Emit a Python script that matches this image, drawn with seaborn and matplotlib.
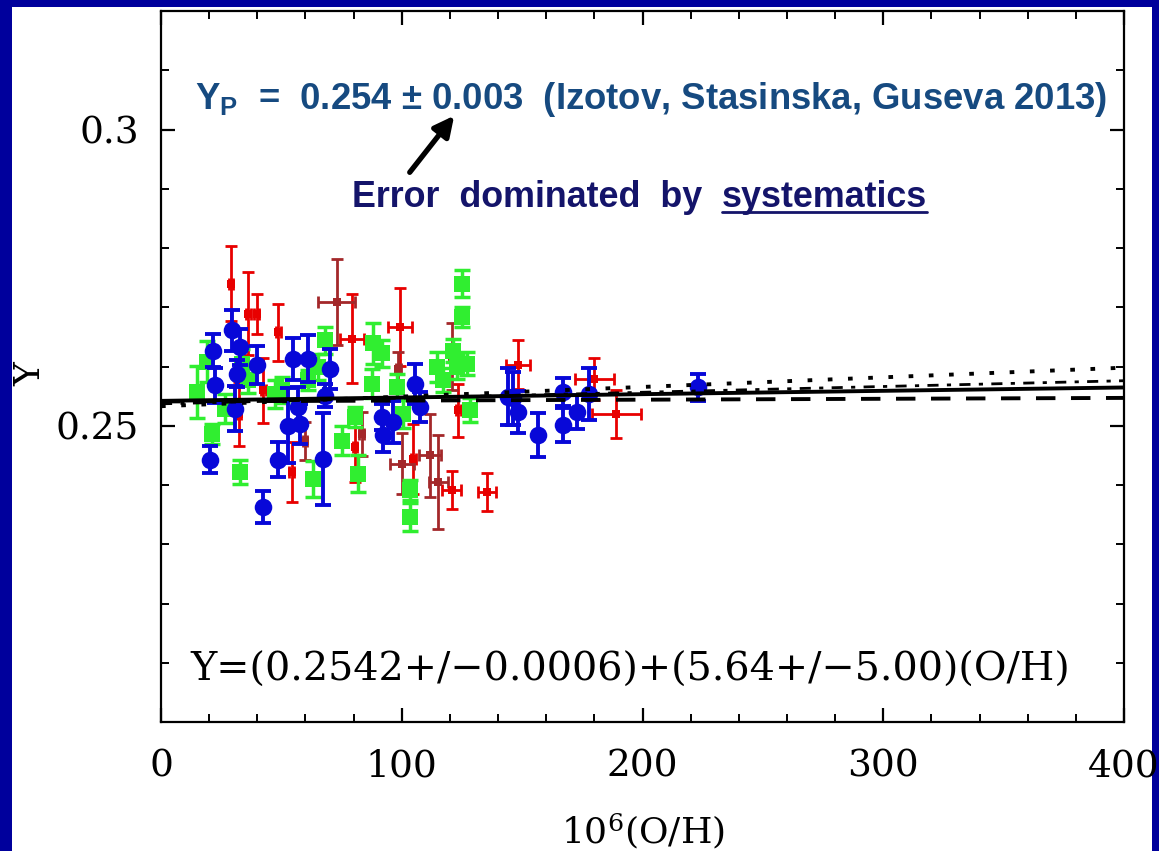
import matplotlib
matplotlib.use("Agg")
import numpy as np
import pandas as pd
import seaborn as sns
import matplotlib.pyplot as plt
from matplotlib.patches import Rectangle
from matplotlib.ticker import MultipleLocator, FixedLocator

# ---------------- data ----------------
blue_x = [20.3, 21.7, 22.4, 29.4, 30.7, 31.4, 32.8, 39.7, 42.5, 48.7, 52.9, 54.9,
          57.0, 57.7, 61.2, 67.4, 68.1, 70.2, 91.6, 92.3, 96.5, 105.5, 107.6,
          144.2, 146.3, 148.4, 156.7, 167.1, 167.1, 172.6, 177.9, 223.1]
blue_y = [0.2443, 0.2627, 0.2568, 0.2661, 0.2529, 0.2588, 0.2633, 0.2602, 0.2363,
          0.2443, 0.2500, 0.2613, 0.2532, 0.2503, 0.2613, 0.2444, 0.2551, 0.2596,
          0.2515, 0.2484, 0.2506, 0.2571, 0.2532, 0.2549, 0.2546, 0.2523, 0.2484,
          0.2557, 0.2501, 0.2523, 0.2554, 0.2565]
blue_err = [0.0022, 0.0028, 0.0030, 0.0034, 0.0038, 0.0023, 0.0030, 0.0032, 0.0027,
            0.0030, 0.0063, 0.0035, 0.0034, 0.0034, 0.0040, 0.0077, 0.0020, 0.0034,
            0.0022, 0.0028, 0.0035, 0.0034, 0.0025, 0.0048, 0.0045, 0.0035, 0.0037,
            0.0023, 0.0029, 0.0029, 0.0044, 0.0023]

green_x = [14.8, 19.0, 21.1, 26.6, 32.8, 33.6, 36.3, 47.3, 50.1, 61.2, 63.2, 65.3,
           68.1, 75.0, 80.6, 81.9, 87.5, 88.2, 91.6, 97.9, 100.6, 103.4, 103.4,
           114.5, 117.2, 121.4, 122.8, 124.9, 124.9, 127.0, 128.3]
green_y = [0.2557, 0.2608, 0.2486, 0.2529, 0.2422, 0.2605, 0.2577, 0.2554, 0.2560,
           0.2577, 0.2410, 0.2599, 0.2644, 0.2475, 0.2515, 0.2419, 0.2571, 0.2639,
           0.2622, 0.2565, 0.2520, 0.2391, 0.2346, 0.2599, 0.2577, 0.2627, 0.2599,
           0.2740, 0.2684, 0.2605, 0.2526]
green_err = [0.0044, 0.0035, 0.0017, 0.0025, 0.0020, 0.0025, 0.0022, 0.0024, 0.0022,
             0.0017, 0.0031, 0.0022, 0.0023, 0.0024, 0.0017, 0.0031, 0.0025, 0.0034,
             0.0022, 0.0022, 0.0024, 0.0017, 0.0024, 0.0025, 0.0020, 0.0020, 0.0020,
             0.0023, 0.0017, 0.0020, 0.0020]

red_x = [29.1, 36.3, 39.7, 48.7, 42.5, 32.4, 54.3, 79.2, 80.6, 99.3, 104.8, 120.7,
         123.5, 135.3, 148.4, 180.0, 189.2]
red_y = [0.2740, 0.2689, 0.2689, 0.2658, 0.2560, 0.2520, 0.2422, 0.2647, 0.2464,
         0.2667, 0.2444, 0.2391, 0.2526, 0.2388, 0.2603, 0.2579, 0.2520]
red_xerr = [1.0, 1.0, 1.0, 1.0, 1.0, 1.0, 1.0, 5.0, 1.0, 5.0, 1.0, 3.8, 1.0, 3.8,
            5.0, 8.0, 10.0]
red_yerr = [0.0064, 0.0070, 0.0034, 0.0048, 0.0055, 0.0054, 0.0051, 0.0075, 0.0059,
            0.0066, 0.0059, 0.0032, 0.0045, 0.0032, 0.0041, 0.0035, 0.0041]

dred_x = [73.0, 59.8, 83.3, 98.5, 100.0, 111.7, 115.2, 120.7]
dred_y = [0.2709, 0.2475, 0.2486, 0.2596, 0.2436, 0.2450, 0.2405, 0.2617]
dred_xerr = [7.6, 1.0, 1.0, 1.0, 5.0, 4.5, 4.0, 1.0]
dred_yerr = [0.0072, 0.0032, 0.0037, 0.0029, 0.0051, 0.0070, 0.0079, 0.0056]

line_x = [0, 400]
fit_solid = [0.2542, 0.25646]
fit_dashed = [0.2541, 0.2547]
fit_dashdot = [0.2537, 0.2576]
fit_dotted = [0.2533, 0.2598]

x_ticks = [0, 100, 200, 300, 400]
y_ticks = [0.25, 0.3]
y_tick_labels = ["0.25", "0.3"]

# ---------------- style ----------------
sns.set_theme(style="ticks")
plt.rcParams["font.family"] = ["DejaVu Serif"]
plt.rcParams["mathtext.fontset"] = "custom"
plt.rcParams["mathtext.rm"] = "Liberation Sans:bold"
plt.rcParams["mathtext.bf"] = "Liberation Sans:bold"
plt.rcParams["mathtext.it"] = "Liberation Sans:bold"

W, H = 1159, 851
fig = plt.figure(figsize=(W / 100, H / 100), dpi=100, facecolor="#00009c")
fig.patches.append(Rectangle((12 / W, 0), (1152 - 12) / W, 1 - 7 / H,
                             transform=fig.transFigure, facecolor="white",
                             edgecolor="none", zorder=-5))
ax = fig.add_axes([161 / W, 1 - 722 / H, (1124 - 161) / W, (722 - 11) / H])
ax.set_zorder(1)
ax.set_facecolor("white")

BLUE = "#0808d8"
GREEN = "#30ee30"
RED = "#e80000"
DRED = "#a3282a"

# red and dark red points with x and y errors
for xs, ys, xe, ye, c in [(red_x, red_y, red_xerr, red_yerr, RED),
                          (dred_x, dred_y, dred_xerr, dred_yerr, DRED)]:
    ax.errorbar(xs, ys, xerr=xe, yerr=ye, fmt="none", ecolor=c, elinewidth=2.0,
                capsize=4.5, capthick=2.0, zorder=2)
    sns.scatterplot(x=xs, y=ys, ax=ax, marker="s", s=32, color=c,
                    edgecolor=c, linewidth=0, zorder=3)

ax.errorbar(green_x, green_y, yerr=green_err, fmt="none", ecolor=GREEN,
            elinewidth=2.5, capsize=5.5, capthick=2.5, zorder=4)
sns.scatterplot(x=green_x, y=green_y, ax=ax, marker="s", s=125, color=GREEN,
                edgecolor=GREEN, linewidth=0, zorder=5)

ax.errorbar(blue_x, blue_y, yerr=blue_err, fmt="none", ecolor=BLUE,
            elinewidth=2.8, capsize=5.5, capthick=2.8, zorder=6)
sns.scatterplot(x=blue_x, y=blue_y, ax=ax, marker="o", s=160, color=BLUE,
                edgecolor=BLUE, linewidth=0, zorder=7)

# fit lines
sns.lineplot(x=line_x, y=fit_solid, ax=ax, color="black", lw=2.8, zorder=9)
sns.lineplot(x=line_x, y=fit_dashed, ax=ax, color="black", lw=2.8,
             linestyle=(0, (5, 4)), zorder=9)
sns.lineplot(x=line_x, y=fit_dashdot, ax=ax, color="black", lw=2.0,
             linestyle=(0, (4, 3, 1.5, 3)), zorder=9)
sns.lineplot(x=line_x, y=fit_dotted, ax=ax, color="black", lw=2.8,
             linestyle=(0, (1.2, 4)), zorder=9)

# axes
ax.set_xlim(0, 400)
ax.set_ylim(0.2, 0.32)
ax.xaxis.set_major_locator(FixedLocator(x_ticks))
ax.xaxis.set_minor_locator(MultipleLocator(20))
ax.yaxis.set_major_locator(FixedLocator(y_ticks))
ax.set_yticklabels(y_tick_labels)
ax.yaxis.set_minor_locator(MultipleLocator(0.01))
ax.tick_params(which="both", direction="in", top=True, right=True,
               color="black", labelsize=27, labelcolor="black")
ax.tick_params(which="major", length=10, width=1.6)
ax.tick_params(which="minor", length=6, width=1.4)
ax.tick_params(axis="x", pad=19)
ax.tick_params(axis="y", pad=16)
for sp in ax.spines.values():
    sp.set_visible(True)
    sp.set_color("black")
    sp.set_linewidth(1.6)

ax.set_xlabel("$10^6$(O/H)", fontsize=26, color="black",
              math_fontfamily="dejavuserif")
ax.xaxis.set_label_coords(0.5, -0.125)
ax.set_ylabel("Y", fontsize=26, color="black")
ax.yaxis.set_label_coords(-0.118, 0.49)

# annotations
ax.text(14, 0.3050, r"$\mathbf{Y_P}$  =  0.254 ± 0.003  (Izotov, Stasinska, Guseva 2013)",
        fontsize=26.3, fontfamily="Liberation Sans", fontweight="bold",
        color="#164a80", ha="left", va="center", zorder=10)

t1 = ax.text(79.3, 0.2885, "Error  dominated  by  ", fontsize=25.8,
             fontfamily="Liberation Sans", fontweight="bold", color="#14146a",
             ha="left", va="center", zorder=10)
fig.canvas.draw()
r = fig.canvas.get_renderer()
bb1 = t1.get_window_extent(renderer=r)
inv = ax.transData.inverted()
x_end = inv.transform((bb1.x1, bb1.y0))[0]
t2 = ax.text(x_end, 0.2885, "systematics", fontsize=25.8,
             fontfamily="Liberation Sans", fontweight="bold", color="#14146a",
             ha="left", va="center", zorder=10)
fig.canvas.draw()
bb2 = t2.get_window_extent(renderer=r)
(ux0, uy), (ux1, _) = inv.transform([(bb2.x0, bb2.y0 + 3), (bb2.x1, bb2.y0 + 3)])
ax.plot([ux0, ux1], [uy, uy], color="#14146a", lw=2, zorder=10)

ax.annotate("", xy=(122.5, 0.3027), xytext=(102.6, 0.2924),
            arrowprops=dict(arrowstyle="-|>,head_length=1.0,head_width=0.5",
                            color="black", lw=3.8), zorder=10)

ax.text(12, 0.2087, "Y=(0.2542+/−0.0006)+(5.64+/−5.00)(O/H)", fontsize=28.5,
        color="black", ha="left", va="center", zorder=10)

fig.savefig("out.png", dpi=100, facecolor=fig.get_facecolor())
